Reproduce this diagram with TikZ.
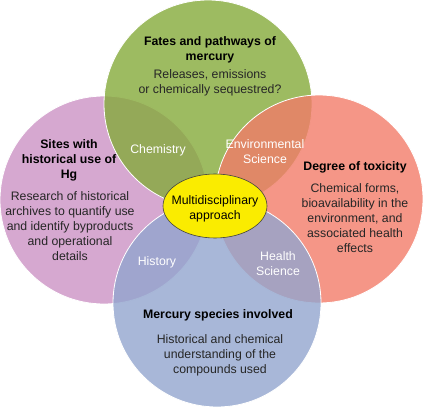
\documentclass[tikz,border=0pt]{standalone}
\usepackage{fontspec}
\setmainfont{Liberation Sans}
\definecolor{hgGreen}{RGB}{133,170,58}
\definecolor{hgPink}{RGB}{204,146,196}
\definecolor{hgSalmon}{RGB}{242,124,105}
\definecolor{hgBlue}{RGB}{146,165,206}
\definecolor{hgYellow}{RGB}{250,236,0}

\begin{document}
\begin{tikzpicture}[x=1pt,y=-1pt,
    ring/.style={draw=white,line width=0.8pt,fill opacity=0.8},
    heading/.style={font=\fontsize{12.3}{15}\selectfont\bfseries,align=center},
    blurb/.style={font=\fontsize{12.3}{15}\selectfont,align=center,text=black!85},
    overlap/.style={font=\fontsize{12.3}{15}\selectfont,align=center,text=white}]
      \useasboundingbox (0,0) rectangle (423,407);
      % Circle 1: sites (pink)
      \draw[ring,fill=hgPink] (104,200) circle (104);
      % Circle 2: fates (green)
      \draw[ring,fill=hgGreen] (208,104) circle (104);
      % Circle 3: toxicity (salmon)
      \draw[ring,fill=hgSalmon] (319,199) circle (104);
      % Circle 4: species (blue)
      \draw[ring,fill=hgBlue] (217,303) circle (104);
      % overlaps
      \node[overlap] (chem) at (158,150) {Chemistry};
      \node[overlap] (envsci) at (265,152) {Environmental\\Science};
      \node[overlap] (hist) at (157,262) {History};
      \node[overlap] (health) at (278,264) {Health\\Science};
      % centre
      \draw[black!75,line width=0.6pt,fill=hgYellow] (215,206) ellipse [x radius=52, y radius=32];
      \node[font=\fontsize{12.3}{15}\selectfont,align=center] (multi) at (215,209)
        {Multidisciplinary\\approach};
      % texts in circles
      \node[heading] (fatesT) at (210,49.5) {Fates and pathways of\\mercury};
      \node[blurb] (fatesB) at (210,83) {Releases, emissions\\or chemically sequestred?};
      \node[heading] (sitesT) at (69,160) {Sites with\\historical use of\\Hg};
      \node[blurb] (sitesB) at (70,226) {Research of historical\\archives to quantify use\\and identify byproducts\\and operational\\details};
      \node[heading] (toxT) at (355,167) {Degree of toxicity};
      \node[blurb] (toxB) at (355,218) {Chemical forms,\\bioavailability in the\\environment, and\\associated health\\effects};
      \node[heading] (specT) at (218,315) {Mercury species involved};
      \node[blurb] (specB) at (220,355) {Historical and chemical\\understanding of the\\compounds used};
    \end{tikzpicture}
\end{document}
